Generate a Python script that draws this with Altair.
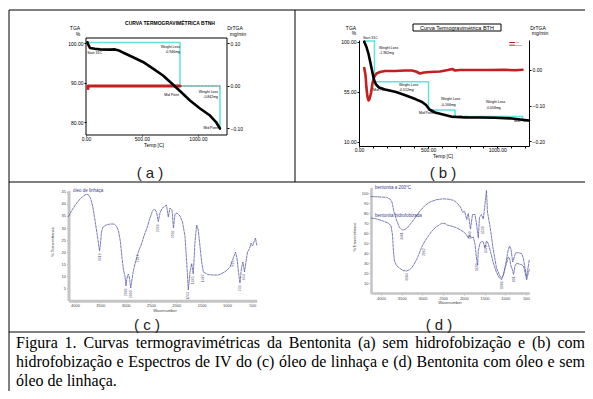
import altair as alt
import pandas as pd

W, H, M = 577, 383, 8

# ---------------- (a) TGA / DrTGA, bentonite without hydrophobization ----------------
A_TEMP = [13, 22, 36, 80, 125, 214, 259, 286, 313, 349, 420, 509, 599, 688, 777, 849, 929, 1019, 1108, 1162, 1197]
A_TGA = [100.3, 99.6, 98.85, 98.65, 98.5, 98.45, 98.5, 98.3, 97.95, 97.45, 96.5, 95.3, 93.6, 91.85, 89.55,
         87.65, 85.5, 83.45, 81.65, 80.0, 78.35]
A_STEP_TEMP = [15, 840, 840, 1197, 1197]
A_STEP_TGA = [100.25, 100.25, 89.2, 89.2, 78.2]
A_DR_TEMP = [18, 18, 840]
A_DR = [-0.006, 0.0, 0.0]
A_DR_TAIL_TEMP = [840, 1197, 1197]
A_DR_TAIL = [0.0, 0.0, -0.006]
A_NOTE_TEMP = [143, 840, 840, 830, 1180, 1180, 1180]
A_NOTE_TGA = [97.6, 99.0, 97.9, 86.9, 87.6, 86.4, 78.5]
A_NOTE_TEXT = ["Start 31C", "Weight Loss", "-0.946mg", "Mid Point", "Weight Loss", "-0.842mg", "Mid Point"]

# ---------------- (b) TGA / DrTGA, hydrophobized bentonite ----------------
B_TEMP = [38, 54, 69, 83, 98, 109, 123, 145, 188, 268, 340, 412, 456, 485, 510, 550, 608, 673, 767, 875,
          984, 1092, 1165, 1230]
B_TGA = [100.0, 95.2, 88.9, 80.8, 71.8, 65.5, 61.45, 58.75, 56.95, 54.7, 51.55, 48.1, 45.7, 43.0, 38.95,
         36.25, 34.45, 32.4, 31.75, 31.75, 31.5, 31.0, 29.95, 29.05]
B_DR_TEMP = [38, 47, 54, 61.5, 69, 76, 87, 98, 109, 127, 152, 188, 260, 333, 383, 412, 441, 470, 514, 586,
             644, 673, 695, 731, 803, 948, 1056, 1129, 1183]
B_DR = [0.0056, -0.014, -0.0504, -0.0755, -0.0853, -0.0811, -0.0644, -0.0364, -0.0196, -0.0098, -0.0056,
        -0.0028, -0.0028, -0.0014, -0.0014, -0.0042, -0.0098, -0.007, -0.0056, -0.0042, 0.0, 0.0028,
        -0.0014, 0.0, 0.0, 0.0, 0.0006, -0.0008, 0.0006]
B_STEP_TEMP = [38, 112, 112, 503, 503, 695, 695, 1183, 1183]
B_STEP_TGA = [100.5, 100.5, 64.0, 64.0, 38.5, 38.5, 32.65, 32.65, 30.85]
B_NOTE_TEMP = [29, 145, 145, 101, 289, 289, 593, 593, 434, 680, 919, 919, 1121]
B_NOTE_TGA = [103.3, 94.3, 89.8, 56.5, 61.0, 56.5, 48.4, 43.0, 36.1, 32.2, 45.7, 40.6, 28.9]
B_NOTE_TEXT = ["Start 31C", "Weight Loss", "-1.962mg", "Mid Point", "Weight Loss", "-0.512mg",
               "Weight Loss", "-0.166mg", "Mid Point", "Mid Point", "Weight Loss", "-0.058mg", "Mid Point"]
B_LEGEND = ["TGA", "DrTGA"]

# ---------------- (c) IR spectrum, linseed oil ----------------
C_WN = [4128, 4059, 3980, 3901, 3822, 3773, 3734, 3694, 3655, 3615, 3576, 3546, 3516, 3497, 3477, 3447,
        3388, 3309, 3230, 3181, 3141, 3102, 3072, 3043, 3013, 2993, 2974, 2948, 2924, 2900, 2875, 2845,
        2806, 2747, 2687, 2638, 2579, 2520, 2470, 2431, 2391, 2356, 2322, 2283, 2233, 2194, 2158, 2125,
        2085, 2056, 2026, 1987, 1927, 1878, 1829, 1795, 1763, 1730, 1697, 1665, 1631, 1598, 1566, 1533,
        1499, 1467, 1375, 1276, 1177, 1098, 1019, 940, 875, 832, 802, 773, 743, 714, 684, 654, 625, 595,
        556, 526, 496, 467, 437, 413]
C_T = [34.77, 37.46, 39.94, 42.01, 43.46, 43.96, 43.75, 42.42, 39.53, 34.56, 29.18, 25.04, 20.49, 23.39,
       28.35, 30.42, 31.25, 31.66, 31.66, 30.84, 28.77, 24.21, 17.59, 12.62, 10.14, 6.0, 9.31, 10.97, 9.31,
       5.17, 8.48, 12.62, 15.94, 20.2, 23.39, 26.7, 30.01, 34.15, 37.04, 37.87, 36.63, 32.7, 36.22, 38.08,
       38.91, 39.53, 34.56, 38.29, 37.46, 30.01, 35.8, 36.22, 34.97, 32.49, 26.7, 15.94, 4.35, 11.8, 15.31,
       10.97, 24.21, 31.25, 29.18, 22.56, 15.94, 11.8, 10.76, 10.55, 10.55, 11.18, 12.21, 13.87, 17.59,
       20.07, 17.59, 11.8, 7.24, 13.45, 15.94, 11.8, 15.94, 20.07, 21.32, 23.8, 22.56, 24.21, 25.87, 22.97]
C_PEAK_WN = [3516, 2993, 2900, 2747, 2356, 2056, 1763, 1665, 1467, 875, 743, 654]
C_PEAK_T = [19.5, 5.0, 4.2, 19.0, 31.5, 29.0, 3.5, 10.0, 10.8, 16.5, 6.3, 10.8]
C_LEGEND = "óleo de linhaça"

# ---------------- (d) IR spectra, bentonite 200 C and hydrophobized ----------------
D_WN_UP = [4241, 4024, 3867, 3783, 3734, 3686, 3626, 3553, 3481, 3421, 3348, 3252, 3155, 3059, 2938, 2817,
           2672, 2503, 2358, 2238, 2153, 2081, 2028, 1984, 1931, 1893, 1840, 1791, 1731, 1690, 1651, 1622,
           1574, 1530, 1489, 1454, 1430, 1369, 1296, 1212, 1127, 1086, 1043, 1007, 934, 898, 862, 821, 789,
           753, 693, 604, 565, 524, 488, 451, 420]
D_T_UP = [96.8, 96.3, 96.0, 94.3, 91.3, 81.3, 73.3, 65.8, 63.3, 63.8, 66.3, 71.3, 76.8, 82.3, 87.8, 91.3,
          93.5, 94.5, 94.0, 92.8, 89.8, 86.3, 80.8, 82.3, 73.8, 79.8, 64.3, 78.8, 78.8, 68.3, 55.3, 75.8,
          78.8, 74.3, 89.3, 103.0, 81.3, 67.3, 45.3, 25.3, 16.8, 15.3, 18.3, 25.3, 42.3, 47.3, 44.3, 31.3,
          35.3, 40.3, 40.6, 39.8, 35.3, 25.3, 16.3, 25.3, 33.3]
D_WN_LOW = [4241, 4097, 3952, 3831, 3759, 3722, 3698, 3674, 3626, 3541, 3469, 3384, 3300, 3228, 3138, 3083,
            3018, 2938, 2858, 2769, 2672, 2535, 2455, 2407, 2310, 2190, 2093, 2021, 1948, 1893, 1864, 1815,
            1772, 1731, 1690, 1666, 1652, 1610, 1562, 1530, 1489, 1454, 1417, 1369, 1289, 1224, 1168, 1115,
            1086, 1043, 1007, 970, 927, 898, 862, 826, 801, 765, 724, 668, 603, 560, 524, 483, 451, 420]
D_T_LOW = [75.3, 74.3, 72.3, 70.3, 67.8, 58.3, 41.3, 32.3, 27.8, 24.8, 22.8, 22.3, 23.8, 27.3, 33.8, 39.3,
           46.3, 52.3, 57.3, 62.3, 66.3, 70.0, 69.8, 68.3, 67.3, 65.8, 63.6, 61.8, 59.3, 55.3, 58.3, 55.3,
           56.3, 49.3, 33.3, 28.3, 42.3, 50.3, 52.0, 51.3, 45.3, 52.3, 50.3, 43.8, 30.3, 22.3, 17.0, 14.3,
           13.8, 19.3, 25.3, 29.8, 36.3, 35.3, 27.3, 23.3, 18.8, 27.3, 30.3, 29.3, 28.6, 27.3, 21.3, 13.3,
           19.3, 23.6]
D_PEAK_WN = [3481, 3384, 2962, 1840, 1690, 1530, 1470, 1086, 801]
D_PEAK_T = [61.0, 20.0, 45.0, 62.0, 30.0, 67.0, 48.0, 12.0, 17.0]
D_LEGEND = ["bentonita a 200°C", "bentonita hidrofobizada"]

CAPTION = [
    "Figura 1. Curvas termogravimétricas da Bentonita (a) sem hidrofobização e (b) com",
    "hidrofobização e Espectros de IV do (c) óleo de linhaça e (d) Bentonita com óleo e sem",
    "óleo de linhaça.",
]

# ---------------- helpers ----------------
BASE = pd.DataFrame({"k": [0]})
SANS = "Liberation Sans"
IR_COLOR = "#5c5ca8"


def sc(domain, r0, r1):
    return alt.Scale(domain=domain, range=[r0 - M, r1 - M], nice=False, zero=False)


def axis(orient, values, fmt, offset, size=5, color="black", domain=False, dcolor="black",
         dwidth=1, tick=2, pad=1):
    return alt.Axis(orient=orient, values=values, format=fmt, offset=offset, grid=False, title=None,
                    labelFont=SANS, labelFontSize=size, labelColor=color, labelOverlap=False,
                    labelFlush=False, ticks=True, tickSize=tick, tickColor=dcolor, tickWidth=1,
                    domain=domain, domainColor=dcolor, domainWidth=dwidth, labelPadding=pad)


def curve(xv, yv, xs, ys, color, width, dash=None, xaxis=None, yaxis=None):
    df = pd.DataFrame({"x": xv, "y": yv, "i": list(range(len(xv)))})
    kw = dict(color=color, strokeWidth=width, strokeJoin="round", strokeCap="round")
    if dash:
        kw["strokeDash"] = dash
    return alt.Chart(df).mark_line(**kw).encode(
        x=alt.X("x:Q", scale=xs, axis=xaxis),
        y=alt.Y("y:Q", scale=ys, axis=yaxis),
        order="i:Q")


def notes(xv, yv, texts, xs, ys, size, align="left", color="black", angle=0):
    df = pd.DataFrame({"x": xv, "y": yv, "t": texts})
    return alt.Chart(df).mark_text(align=align, baseline="middle", fontSize=size, color=color,
                                   angle=angle, font=SANS).encode(
        x=alt.X("x:Q", scale=xs, axis=None),
        y=alt.Y("y:Q", scale=ys, axis=None),
        text="t:N")


def label(text, x, y, size, angle=0, align="center", font=SANS, color="black", weight="normal"):
    return alt.Chart(BASE).mark_text(text=text, fontSize=size, angle=angle, align=align,
                                     baseline="middle", font=font, color=color,
                                     fontWeight=weight).encode(
        x=alt.value(x - M), y=alt.value(y - M))


def seg(x1, y1, x2, y2, color="black", width=1):
    return alt.Chart(BASE).mark_rule(color=color, strokeWidth=width).encode(
        x=alt.value(x1 - M), y=alt.value(y1 - M), x2=alt.value(x2 - M), y2=alt.value(y2 - M))


def box(x1, y1, x2, y2, color="black", width=1):
    return alt.Chart(BASE).mark_rect(fillOpacity=0, stroke=color, strokeWidth=width).encode(
        x=alt.value(x1 - M), y=alt.value(y1 - M), x2=alt.value(x2 - M), y2=alt.value(y2 - M))


TIMES = {" ": 250, ".": 250, "(": 333, ")": 333, "1": 500, "a": 444, "b": 500, "c": 444, "d": 500,
         "e": 444, "f": 333, "g": 500, "h": 500, "i": 278, "l": 278, "m": 778, "n": 500, "o": 500,
         "p": 500, "r": 333, "s": 389, "t": 278, "u": 500, "v": 500, "z": 444, "ã": 444, "ç": 444,
         "é": 444, "ó": 500, "B": 667, "C": 667, "E": 611, "F": 556, "I": 333, "V": 722}


def caption_line(line, x0, x1, y, fs, justify):
    words = line.split()
    widths = [sum(TIMES.get(ch, 500) for ch in w) * fs / 1000 for w in words]
    if justify and len(words) > 1:
        gap = (x1 - x0 - sum(widths)) / (len(words) - 1)
    else:
        gap = TIMES[" "] * fs / 1000
    xs, x = [], x0
    for w in widths:
        xs.append(x - M)
        x += w + gap
    df = pd.DataFrame({"w": words, "x": xs, "y": [y - M] * len(words)})
    return alt.Chart(df).mark_text(align="left", baseline="middle", font="Liberation Serif",
                                   fontSize=fs, color="black").encode(
        x=alt.X("x:Q", scale=None), y=alt.Y("y:Q", scale=None), text="w:N")


layers = []

# ---------------- table borders ----------------
layers += [
    seg(9, 10, 586, 10), seg(9, 10, 9, 392), seg(586, 10, 586, 332), seg(295, 10, 295, 182),
    seg(9, 182, 586, 182), seg(9, 332, 591, 332), seg(591, 332, 591, 392), seg(9, 392, 591, 392),
]

# ---------------- (a) ----------------
AX = sc([0, 1260], 86, 227)
AY = sc([76.7, 101.4], 135, 38)
AY2 = sc([-0.1153, 0.1129], 135, 38)
layers += [
    box(86, 38, 227, 135),
    curve(A_STEP_TEMP, A_STEP_TGA, AX, AY, "#5fe3dc", 1.5),
    curve(A_DR_TAIL_TEMP, A_DR_TAIL, AX, AY2, "#b07070", 0.8, dash=[2, 1.5]),
    curve(A_DR_TEMP, A_DR, AX, AY2, "#c41e1e", 3,
          yaxis=axis("right", [0.1, 0.0, -0.1], ".2f", -358)),
    curve(A_TEMP, A_TGA, AX, AY, "black", 2.6,
          xaxis=axis("bottom", [0, 500, 1000], ".2f", -256, tick=1, pad=0),
          yaxis=axis("left", [100, 90, 80], ".2f", -78)),
    notes(A_NOTE_TEMP, A_NOTE_TGA, A_NOTE_TEXT, AX, AY, 3.5, align="right"),
    label("CURVA TERMOGRAVIMÉTRICA BTNH", 170, 23, 5, weight="bold"),
    label("TGA", 75, 28, 5), label("%", 78, 34, 5),
    label("DrTGA", 235, 28, 5), label("mg/min", 238, 34, 5),
    label("Temp [C]", 154, 145, 5),
    label("( a )", 150, 173, 15, color="#222"),
]

# ---------------- (b) ----------------
BX = sc([0, 1230], 359, 529)
BY = sc([6.1, 101.5], 146, 40)
BY2 = sc([-0.2126, 0.0839], 146, 40)
layers += [
    curve(B_STEP_TEMP, B_STEP_TGA, BX, BY, "#5fe3dc", 1.5),
    curve(B_DR_TEMP, B_DR, BX, BY2, "#c41e1e", 2.6,
          yaxis=axis("right", [0.0, -0.1, -0.2], ".2f", -56, domain=True)),
    curve(B_TEMP, B_TGA, BX, BY, "black", 2.6,
          xaxis=axis("bottom", [0, 500, 1000], ".2f", -245, domain=True, tick=1, pad=0),
          yaxis=axis("left", [100, 55, 10], ".2f", -351, domain=True)),
    alt.Chart(pd.DataFrame({"x": [0]})).mark_point(opacity=0).encode(
        x=alt.X("x:Q", scale=BX,
                axis=alt.Axis(orient="bottom", values=list(range(100, 1230, 100)), labels=False,
                              offset=-245, grid=False, title=None, domain=False, tickSize=2,
                              tickColor="black"))),
    notes(B_NOTE_TEMP, B_NOTE_TGA, B_NOTE_TEXT, BX, BY, 3.5, align="left"),
    curve([1090, 1125], [99.25, 99.25], BX, BY, "#c41e1e", 1),
    curve([1090, 1125], [96.85, 96.85], BX, BY, "#c41e1e", 1),
    notes([1130, 1130], [99.25, 96.85], B_LEGEND, BX, BY, 2.5, align="left", color="#802020"),
    box(413, 24, 501, 31),
    label("Curva Termogravimétrica BTH", 457, 27.5, 5.5),
    label("TGA", 351, 28, 5), label("%", 354, 33, 5),
    label("DrTGA", 538, 28, 5), label("mg/min", 540, 33, 5),
    label("Temp [C]", 443, 156, 5),
    label("( b )", 443, 173, 15, color="#222"),
]

# ---------------- (c) ----------------
CX = sc([4128, 413], 68.5, 256.7)
CY = sc([0, 45.5], 300.5, 190.6)
layers += [
    curve(C_WN, C_T, CX, CY, IR_COLOR, 0.8, dash=[2.5, 1.2],
          xaxis=axis("bottom", [4000, 3500, 3000, 2500, 2000, 1500, 1000, 500], "d", -90.3,
                     size=4, color="#444", domain=True, dcolor="#c4c4c4", dwidth=3, tick=2, pad=1),
          yaxis=axis("left", [5, 10, 15, 20, 25, 30, 35, 40, 45], "d", -60.5,
                     size=4, color="#444", domain=True, dcolor="#c4c4c4", dwidth=3, tick=2, pad=1)),
    notes(C_PEAK_WN, C_PEAK_T, [str(v) for v in C_PEAK_WN], CX, CY, 3.5, align="right",
          color="#55557a", angle=270),
    label(C_LEGEND, 73, 191, 4.5, align="left", color="#3a3a90"),
    label("% Transmittance", 53, 242, 4, angle=270, color="#444"),
    label("Wavenumber", 165, 311, 4, color="#444"),
    label("( c )", 147, 325, 15, color="#222"),
]

# ---------------- (d) ----------------
DX = sc([4241, 420], 371, 529.3)
DY = sc([0, 106], 293.3, 187.3)
layers += [
    curve(D_WN_UP, D_T_UP, DX, DY, IR_COLOR, 0.8, dash=[2.5, 1.2],
          xaxis=axis("bottom", [4000, 3500, 3000, 2500, 2000, 1500, 1000, 500], "d", -98,
                     size=4, color="#444", domain=True, dcolor="#c4c4c4", dwidth=2.5, tick=2, pad=1),
          yaxis=axis("left", [10, 20, 30, 40, 50, 60, 70, 80, 90, 100], "d", -363,
                     size=4, color="#444", domain=True, dcolor="#c4c4c4", dwidth=2.5, tick=2, pad=1)),
    curve(D_WN_LOW, D_T_LOW, DX, DY, IR_COLOR, 0.8, dash=[2.5, 1.2]),
    notes(D_PEAK_WN, D_PEAK_T, [str(v) for v in D_PEAK_WN], DX, DY, 3.5, align="right",
          color="#55557a", angle=270),
    label(D_LEGEND[0], 375, 188, 4.5, align="left", color="#3a3a90"),
    label(D_LEGEND[1], 375, 216, 4.5, align="left", color="#3a3a90"),
    label("%Transmittance", 355, 237, 4, angle=270, color="#444"),
    label("Wavenumber", 450, 303, 4, color="#444"),
    label("( d )", 439, 325, 15, color="#222"),
]

# ---------------- caption ----------------
layers += [
    caption_line(CAPTION[0], 16, 585, 343, 16, True),
    caption_line(CAPTION[1], 16, 585, 362, 16, True),
    caption_line(CAPTION[2], 16, 585, 381, 16, False),
]

chart = alt.layer(*layers).resolve_scale(x="independent", y="independent").properties(
    width=W, height=H, padding=0, autosize=alt.AutoSizeParams(type="none"), background="white"
).configure_view(stroke=None)

chart.save("out.html", embed_options={"renderer": "svg", "actions": False})
